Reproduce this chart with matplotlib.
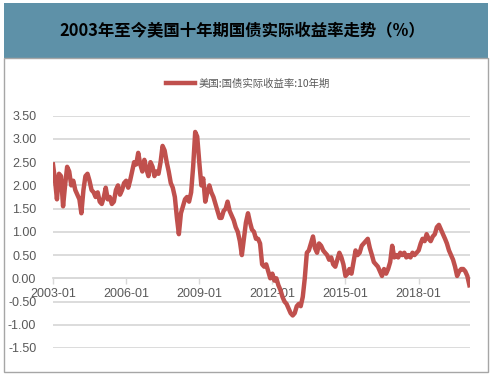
import matplotlib
matplotlib.use("Agg")
import matplotlib.pyplot as plt
from matplotlib.patches import Rectangle
from matplotlib.lines import Line2D
import pandas as pd

plt.rcParams['font.family'] = ['Liberation Sans', 'Noto Sans CJK SC', 'DejaVu Sans']

title = "2003年至今美国十年期国债实际收益率走势（%）"
series_name = "美国:国债实际收益率:10年期"
start_month = "2003-01-01"
values = [
    2.45, 2.10, 1.70, 2.25, 2.20, 1.55, 2.00, 2.40, 2.30, 2.00,
    2.10, 1.90, 1.80, 1.70, 1.40, 1.90, 2.20, 2.25, 2.10, 1.90,
    1.85, 1.75, 1.85, 1.65, 1.60, 1.75, 1.95, 1.70, 1.75, 1.60,
    1.65, 1.90, 2.00, 1.80, 1.90, 2.05, 2.10, 1.95, 2.10, 2.30,
    2.50, 2.45, 2.70, 2.45, 2.30, 2.55, 2.35, 2.20, 2.50, 2.40,
    2.20, 2.30, 2.25, 2.50, 2.85, 2.75, 2.50, 2.30, 2.05, 1.95,
    1.75, 1.30, 0.95, 1.40, 1.55, 1.70, 1.75, 1.65, 1.85, 2.40,
    3.15, 3.05, 2.50, 2.00, 2.15, 1.65, 1.85, 2.00, 1.85, 1.75,
    1.60, 1.45, 1.30, 1.30, 1.45, 1.50, 1.65, 1.45, 1.35, 1.25,
    1.10, 1.00, 0.80, 0.50, 0.85, 1.20, 1.40, 1.20, 1.05, 1.00,
    0.85, 0.85, 0.75, 0.30, 0.25, 0.30, 0.15, 0.00, 0.10, -0.05,
    0.00, -0.15, -0.25, -0.40, -0.50, -0.55, -0.65, -0.75, -0.80, -0.75,
    -0.60, -0.55, -0.60, -0.40, 0.00, 0.55, 0.60, 0.75, 0.90, 0.65,
    0.55, 0.75, 0.70, 0.60, 0.55, 0.50, 0.40, 0.45, 0.30, 0.25,
    0.40, 0.55, 0.45, 0.30, 0.05, 0.10, 0.20, 0.10, 0.35, 0.60,
    0.50, 0.55, 0.70, 0.75, 0.80, 0.85, 0.65, 0.50, 0.35, 0.30,
    0.25, 0.15, 0.05, 0.20, 0.10, 0.20, 0.35, 0.70, 0.45, 0.50,
    0.45, 0.55, 0.50, 0.55, 0.45, 0.50, 0.45, 0.55, 0.50, 0.55,
    0.60, 0.75, 0.85, 0.80, 0.95, 0.85, 0.80, 0.90, 0.95, 1.10,
    1.15, 1.05, 0.95, 0.85, 0.75, 0.60, 0.50, 0.40, 0.25, 0.05,
    0.15, 0.20, 0.20, 0.15, 0.05, -0.15,
]
x_ticks = ["2003-01", "2006-01", "2009-01", "2012-01", "2015-01", "2018-01"]
y_ticks = [-1.5, -1.0, -0.5, 0.0, 0.5, 1.0, 1.5, 2.0, 2.5, 3.0, 3.5]

dates = pd.date_range(start_month, periods=len(values), freq="MS")

W, H = 492, 376
fig = plt.figure(figsize=(W / 100, H / 100), dpi=100)

# title banner
fig.patches.append(Rectangle((4 / W, 1 - 58 / H), 484 / W, 55 / H, transform=fig.transFigure,
                             facecolor="#5e91a8", edgecolor="none", zorder=0))
fig.text(242 / W, 1 - 31 / H, title, ha="center", va="center", fontsize=11.8,
         fontweight="bold", color="#000000", family=['Noto Sans CJK SC', 'DejaVu Sans'])
# outer border
fig.patches.append(Rectangle((4 / W, 1 - 372 / H), 484 / W, 314 / H, transform=fig.transFigure,
                             facecolor="none", edgecolor="#a6a6a6", lw=1.0, zorder=0))

ax = fig.add_axes([53 / W, 1 - 348 / H, (470 - 53) / W, (348 - 115.7) / H])
ax.plot(dates, values, color="#c0504d", lw=3.2, solid_joinstyle="round", zorder=3)

ax.set_ylim(-1.5, 3.5)
ax.set_yticks(y_ticks)
ax.set_yticklabels([f"{v:.2f}" for v in y_ticks])
ax.set_xlim(pd.Timestamp("2003-01-01"), pd.Timestamp("2020-02-10"))
ax.set_xticks([pd.Timestamp(t + "-01") for t in x_ticks])
ax.set_xticklabels(x_ticks)

ax.grid(axis="y", color="#d9d9d9", lw=1.3)
ax.grid(axis="x", visible=False)
ax.set_axisbelow(True)
for s in ["top", "right", "left"]:
    ax.spines[s].set_visible(False)
ax.spines["bottom"].set_position(("data", 0))
ax.spines["bottom"].set_color("#d9d9d9")
ax.spines["bottom"].set_linewidth(1.3)
ax.tick_params(axis="y", length=0, pad=12, labelsize=9, labelcolor="#595959")
ax.tick_params(axis="x", length=4, width=1, color="#d9d9d9", pad=3, labelsize=9,
               labelcolor="#595959", direction="out")

handle = Line2D([], [], color="#c0504d", lw=3.2)
fig.legend([handle], [series_name], loc="center", bbox_to_anchor=(248 / W, 1 - 84 / H),
           frameon=False, labelcolor="#595959", handlelength=2.8,
           handletextpad=0.4, prop={'family': ['Noto Sans CJK SC', 'DejaVu Sans'], 'size': 7.5})

fig.savefig("out.png", dpi=100)
